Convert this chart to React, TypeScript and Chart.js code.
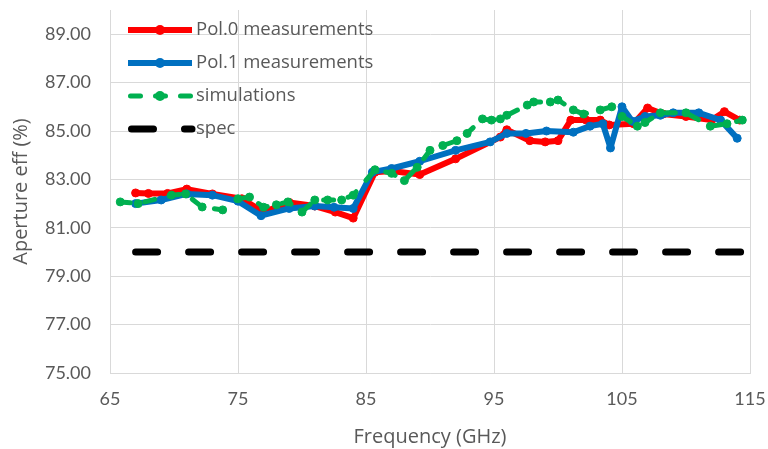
import React, { useEffect, useRef } from "react";
import { Chart, registerables } from "chart.js";

Chart.register(...registerables);

// ---- data ----
const pol0Freq = [67, 68, 69.5, 71, 73, 75.3, 77, 79, 81, 82.6, 84, 85.7, 87, 89.2, 92, 95.5, 96, 97.8, 99, 100, 101, 102.2, 103.3, 104, 105.9, 107, 108.2, 110, 112, 113, 114.2];
const pol0 = [82.44, 82.42, 82.42, 82.6, 82.4, 82.2, 81.65, 82.05, 81.9, 81.65, 81.4, 83.3, 83.35, 83.2, 83.85, 84.75, 85.05, 84.6, 84.55, 84.6, 85.45, 85.45, 85.45, 85.25, 85.3, 85.95, 85.7, 85.6, 85.45, 85.8, 85.45];

const pol1Freq = [67, 69, 71, 73, 75, 76.8, 79, 81, 82.5, 84, 85.5, 87, 89.2, 92, 94.7, 96, 97.5, 99.1, 101.2, 102.5, 103.5, 104.1, 105, 105.8, 106.8, 108, 109, 111, 112.7, 114];
const pol1 = [82.0, 82.15, 82.4, 82.35, 82.1, 81.5, 81.8, 81.9, 81.85, 81.8, 83.3, 83.45, 83.75, 84.2, 84.55, 84.9, 84.9, 85.0, 84.95, 85.2, 85.3, 84.3, 86.0, 85.4, 85.6, 85.65, 85.75, 85.75, 85.45, 84.7];

const simFreq = [65.8, 67.2, 69.8, 70.9, 72.2, 73.8, 75, 75.9, 77, 78, 78.9, 80, 81, 82, 83.1, 84, 85.7, 87, 88, 89, 90, 91, 92.1, 92.9, 94.1, 94.8, 95.5, 96, 97.6, 98.1, 99.4, 100, 101.2, 102, 103.3, 104.2, 105, 106.2, 106.8, 108, 110, 111.9, 113.2, 114.4];
const sim = [82.07, 82.0, 82.35, 82.4, 81.86, 81.74, 82.2, 82.27, 81.85, 81.95, 82.07, 81.65, 82.15, 82.15, 82.15, 82.35, 83.4, 83.25, 82.95, 83.5, 84.2, 84.4, 84.6, 84.9, 85.5, 85.45, 85.5, 85.65, 86.07, 86.2, 86.2, 86.28, 85.87, 85.7, 85.87, 86.0, 85.6, 85.2, 85.35, 85.75, 85.75, 85.2, 85.3, 85.45];

const specFreq = [67, 114.5];
const spec = [80, 80];

const xTicks = [65, 75, 85, 95, 105, 115];
const yTicks = [75, 77, 79, 81, 83, 85, 87, 89];

const seriesNames = ["Pol.0 measurements", "Pol.1 measurements", "simulations", "spec"];

const TICK_FONT = "Lato";
const LABEL_FONT = "'Open Sans'";
const TEXT = "#595959";
const GRID = "#D9D9D9";

const toXY = (xs: number[], ys: number[]) => xs.map((x, i) => ({ x, y: ys[i] }));

const legendPlugin = {
  id: "excelLegend",
  afterDraw(chart: any) {
    const ctx = chart.ctx as CanvasRenderingContext2D;
    const area = chart.chartArea;
    const x0 = area.left + 18;
    const x1 = x0 + 64;
    ctx.save();
    chart.data.datasets.forEach((ds: any, i: number) => {
      const y = area.top + 20 + i * 33;
      ctx.strokeStyle = ds.borderColor;
      ctx.lineWidth = ds.borderWidth;
      ctx.lineCap = ds.borderCapStyle || "butt";
      ctx.setLineDash(ds.borderDash || []);
      ctx.beginPath();
      ctx.moveTo(x0 + (ds.borderCapStyle === "round" ? ds.borderWidth / 2 : 0), y);
      ctx.lineTo(x1, y);
      ctx.stroke();
      ctx.setLineDash([]);
      if (ds.pointRadius > 0) {
        ctx.fillStyle = ds.pointBackgroundColor;
        ctx.beginPath();
        ctx.arc((x0 + x1) / 2, y, ds.pointRadius + 1, 0, Math.PI * 2);
        ctx.fill();
      }
      ctx.fillStyle = TEXT;
      ctx.font = `18.5px ${LABEL_FONT}`;
      ctx.textBaseline = "middle";
      ctx.textAlign = "left";
      ctx.fillText(ds.label, x1 + 4, y);
    });
    ctx.restore();
  },
};

export default function App() {
  const ref = useRef<HTMLCanvasElement>(null);
  useEffect(() => {
    if (!ref.current) return;
    const chart = new Chart(ref.current, {
      type: "line",
      data: {
        datasets: [
          {
            label: seriesNames[0],
            data: toXY(pol0Freq, pol0),
            borderColor: "#FF0000",
            backgroundColor: "#FF0000",
            pointBackgroundColor: "#FF0000",
            pointBorderColor: "#FF0000",
            borderWidth: 6,
            pointRadius: 4,
            pointBorderWidth: 1,
            borderJoinStyle: "round",
            order: 4,
          },
          {
            label: seriesNames[1],
            data: toXY(pol1Freq, pol1),
            borderColor: "#0070C0",
            backgroundColor: "#0070C0",
            pointBackgroundColor: "#0070C0",
            pointBorderColor: "#0070C0",
            borderWidth: 6,
            pointRadius: 4,
            pointBorderWidth: 1,
            borderJoinStyle: "round",
            order: 3,
          },
          {
            label: seriesNames[2],
            data: toXY(simFreq, sim),
            borderColor: "#00B050",
            backgroundColor: "#00B050",
            pointBackgroundColor: "#00B050",
            pointBorderColor: "#00B050",
            borderWidth: 5,
            borderDash: [10, 15],
            borderCapStyle: "round",
            pointRadius: 4,
            pointBorderWidth: 1,
            order: 2,
          },
          {
            label: seriesNames[3],
            data: toXY(specFreq, spec),
            borderColor: "#000000",
            backgroundColor: "#000000",
            pointBackgroundColor: "#000000",
            borderWidth: 7,
            borderDash: [22, 31],
            borderCapStyle: "round",
            pointRadius: 0,
            order: 1,
          },
        ] as any,
      },
      options: {
        animation: false,
        responsive: false,
        devicePixelRatio: 1,
        layout: { padding: { top: 10, right: 18, left: 0, bottom: 0 } },
        plugins: { legend: { display: false }, tooltip: { enabled: false } },
        elements: { line: { tension: 0 } },
        scales: {
          x: {
            type: "linear",
            min: 65,
            max: 115,
            afterBuildTicks: (s: any) => {
              s.ticks = xTicks.map((v) => ({ value: v }));
            },
            afterFit: (s: any) => {
              s.height = 76;
              s.paddingLeft = 0;
              s.paddingRight = 0;
              s.paddingTop = 0;
              s.paddingBottom = 0;
            },
            grid: { color: GRID, lineWidth: 1, drawTicks: false },
            border: { color: GRID, width: 1 },
            ticks: {
              color: TEXT,
              font: { family: TICK_FONT, size: 18 },
              padding: 15,
              maxRotation: 0,
              callback: (v: any) => String(v),
            },
            title: {
              display: true,
              text: "Frequency (GHz)",
              color: TEXT,
              font: { family: LABEL_FONT, size: 20 },
              padding: { top: 0, bottom: 0 },
            },
          },
          y: {
            type: "linear",
            min: 75,
            max: 90,
            afterBuildTicks: (s: any) => {
              s.ticks = yTicks.map((v) => ({ value: v }));
            },
            afterFit: (s: any) => {
              s.width = 110;
              s.paddingLeft = 0;
              s.paddingRight = 0;
              s.paddingTop = 0;
              s.paddingBottom = 0;
            },
            grid: { color: GRID, lineWidth: 1, drawTicks: false },
            border: { color: GRID, width: 1 },
            ticks: {
              color: TEXT,
              font: { family: TICK_FONT, size: 18 },
              padding: 19,
              callback: (v: any) => Number(v).toFixed(2),
            },
            title: {
              display: true,
              text: "Aperture eff (%)",
              color: TEXT,
              font: { family: LABEL_FONT, size: 20 },
              padding: { top: 9, bottom: 0 },
            },
          },
        },
      },
      plugins: [legendPlugin],
    });
    return () => chart.destroy();
  }, []);
  return (
    <div style={{ position: "absolute", left: 0, top: 0, width: 768, height: 449, background: "#fff" }}>
      <canvas ref={ref} width={768} height={449} />
    </div>
  );
}
